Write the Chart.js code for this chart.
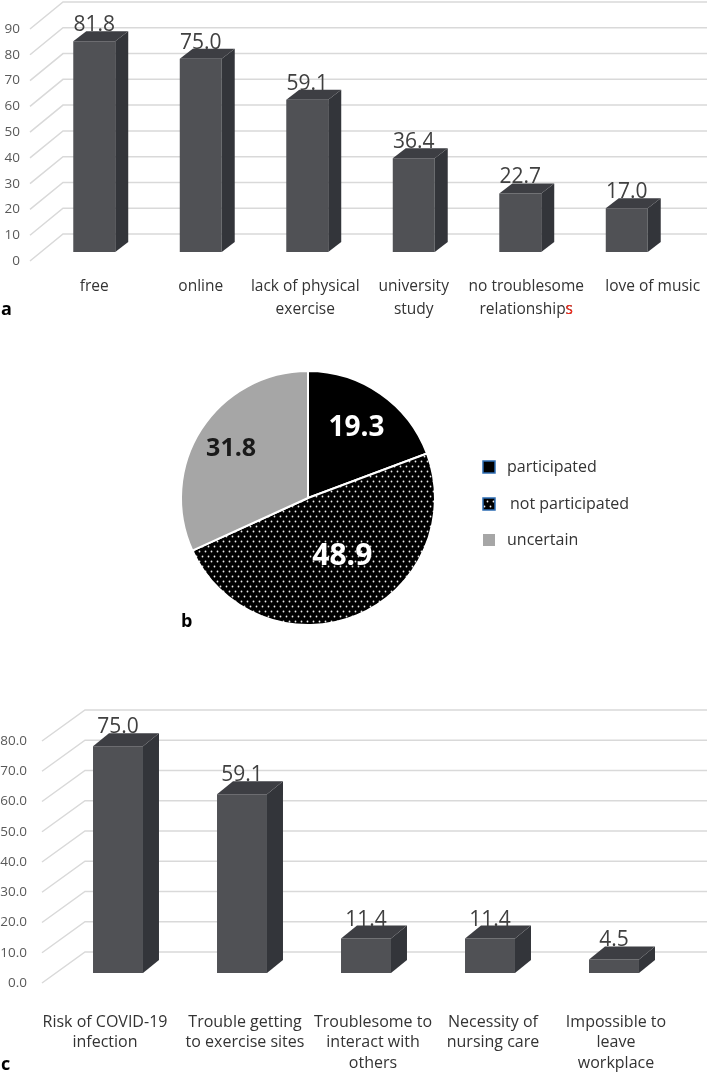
<!DOCTYPE html>
<html>
<head>
<meta charset="utf-8">
<script src="https://cdn.jsdelivr.net/npm/chart.js@4.4.1/dist/chart.umd.min.js"></script>
<style>
  body { margin: 0; background: #fff; width: 708px; height: 1078px; position: relative; overflow: hidden; }
  canvas { position: absolute; left: 0; }
</style>
</head>
<body>
<canvas id="grafico-a" width="708" height="325" style="top:0"></canvas>
<canvas id="grafico-b" width="708" height="300" style="top:330px"></canvas>
<canvas id="grafico-c" width="708" height="398" style="top:680px"></canvas>
<script>
// panel a: reasons for taking part
const aCategories = [['free'], ['online'], ['lack of physical', 'exercise'], ['university', 'study'], ['no troublesome', 'relationships'], ['love of music']];
const aValues = [81.8, 75.0, 59.1, 36.4, 22.7, 17.0];
const aTicks = ['0', '10', '20', '30', '40', '50', '60', '70', '80', '90'];

// panel b: participation
const bLabels = ['participated', 'not participated', 'uncertain'];
const bValues = [19.3, 48.9, 31.8];

// panel c: reasons for not taking part
const cCategories = [['Risk of COVID-19', 'infection'], ['Trouble getting', 'to exercise sites'], ['Troublesome to', 'interact with', 'others'], ['Necessity of', 'nursing care'], ['Impossible to', 'leave', 'workplace']];
const cValues = [75.0, 59.1, 11.4, 11.4, 4.5];
const cTicks = ['0.0', '10.0', '20.0', '30.0', '40.0', '50.0', '60.0', '70.0', '80.0'];

const FONT = "'Open Sans', sans-serif";

// dibuja la caja 3D, la pared del fondo y los textos
const bar3d = {
    id: 'bar3d',
    beforeDatasetsDraw(chart, args, o) {
        const ctx = chart.ctx;
        const y = chart.scales.y;
        const left = chart.chartArea.left;
        ctx.save();
        ctx.strokeStyle = '#d9d9d9';
        ctx.lineWidth = 1.5;
        ctx.fillStyle = '#595959';
        ctx.font = `13.5px ${FONT}`;
        ctx.textAlign = 'right';
        ctx.textBaseline = 'middle';
        y.ticks.forEach((t, i) => {
            const py = y.getPixelForValue(t.value);
            ctx.beginPath();
            ctx.moveTo(left + o.front[0], py + o.front[1]);
            ctx.lineTo(left + o.back[0], py + o.back[1]);
            ctx.lineTo(o.wallRight, py + o.back[1]);
            ctx.stroke();
            ctx.fillText(o.tickLabels[i], o.labelRight, py + o.front[1]);
        });
        ctx.restore();
    },
    afterDatasetsDraw(chart, args, o) {
        const ctx = chart.ctx;
        const [sx, sy] = o.side;
        const values = chart.data.datasets[0].data;
        ctx.save();
        chart.getDatasetMeta(0).data.forEach((bar, i) => {
            const l = bar.x - bar.width / 2, r = bar.x + bar.width / 2;
            const top = bar.y, bottom = bar.base;
            // lado
            ctx.fillStyle = '#33353a';
            ctx.beginPath();
            ctx.moveTo(r, top);
            ctx.lineTo(r + sx, top - sy);
            ctx.lineTo(r + sx, bottom - sy);
            ctx.lineTo(r, bottom);
            ctx.closePath();
            ctx.fill();
            // tapa
            ctx.fillStyle = '#3d3e43';
            ctx.beginPath();
            ctx.moveTo(l, top);
            ctx.lineTo(l + sx, top - sy);
            ctx.lineTo(r + sx, top - sy);
            ctx.lineTo(r, top);
            ctx.closePath();
            ctx.fill();

            ctx.fillStyle = '#404040';
            ctx.font = `21px ${FONT}`;
            ctx.textAlign = 'center';
            ctx.textBaseline = 'alphabetic';
            ctx.fillText(values[i].toFixed(1), bar.x, top - sy);
        });
        ctx.restore();
    },
    afterDraw(chart, args, o) {
        const ctx = chart.ctx;
        const x = chart.scales.x;
        const base = chart.chartArea.bottom;
        ctx.save();
        ctx.font = `${o.catSize}px ${FONT}`;
        ctx.textAlign = 'center';
        ctx.textBaseline = 'middle';
        chart.data.labels.forEach((lines, i) => {
            const px = x.getPixelForValue(i) + o.catShift[i];
            lines.forEach((line, j) => {
                const py = base + o.catTop + j * o.catLine;
                ctx.fillStyle = '#333333';
                ctx.fillText(line, px, py);
                if (o.redTail && o.redTail[0] === i && o.redTail[1] === j) {
                    const w = ctx.measureText(line).width;
                    const last = line.slice(-1);
                    ctx.fillStyle = '#ff2a1a';
                    ctx.textAlign = 'right';
                    ctx.fillText(last, px + w / 2, py);
                    ctx.textAlign = 'center';
                }
            });
        });
        ctx.fillStyle = '#000';
        ctx.font = `bold 18px ${FONT}`;
        ctx.textAlign = 'left';
        ctx.textBaseline = 'alphabetic';
        ctx.fillText(o.tag[0], o.tag[1], o.tag[2]);
        ctx.restore();
    }
};

function barChart(id, labels, values, max, pad, pct, o) {
    return new Chart(document.getElementById(id), {
        type: 'bar',
        data: {
            labels: labels,
            datasets: [{
                data: values,
                backgroundColor: '#505155',
                barPercentage: pct,
                categoryPercentage: 1
            }]
        },
        options: {
            responsive: false,
            animation: false,
            events: [],
            layout: { padding: pad },
            plugins: { legend: { display: false }, tooltip: { enabled: false }, bar3d: o },
            scales: {
                x: { display: false, grid: { display: false } },
                y: { display: false, min: 0, max: max, ticks: { stepSize: 10 } }
            }
        },
        plugins: [bar3d]
    });
}

barChart('grafico-a', aCategories, aValues, 90,
    { left: 41, right: 28, top: 20, bottom: 73 }, 0.394,
    { front: [-11, 9], back: [22, -18], wallRight: 707, labelRight: 20, side: [13, 10],
      tickLabels: aTicks, catSize: 15.5, catTop: 35, catLine: 23, catShift: [0, 0, -2, 0, 6, 26],
      redTail: [4, 1], tag: ['a', 1, 315] });

barChart('grafico-c', cCategories, cValues, 80,
    { left: 56, right: 32, top: 51, bottom: 105 }, 0.403,
    { front: [-14, 10], back: [29, -21], wallRight: 707, labelRight: 27, side: [16, 13],
      tickLabels: cTicks, catSize: 16, catTop: 49, catLine: 20.5, catShift: [-13, 3, 7, 3, 2],
      redTail: null, tag: ['c', 1, 390] });

// patrón de puntos para "not participated"
function dotPattern(ctx) {
    const c = document.createElement('canvas');
    c.width = 6; c.height = 10;
    const g = c.getContext('2d');
    g.fillStyle = '#000';
    g.fillRect(0, 0, 6, 10);
    g.fillStyle = '#f0f0f0';
    g.beginPath(); g.arc(1.5, 1.5, 0.9, 0, Math.PI * 2); g.fill();
    g.beginPath(); g.arc(4.5, 6.5, 0.9, 0, Math.PI * 2); g.fill();
    return ctx.createPattern(c, 'repeat');
}

const pieText = {
    id: 'pieText',
    afterDatasetsDraw(chart, args, o) {
        const ctx = chart.ctx;
        const values = chart.data.datasets[0].data;
        ctx.save();
        ctx.textAlign = 'center';
        ctx.textBaseline = 'middle';
        chart.getDatasetMeta(0).data.forEach((arc, i) => {
            const mid = (arc.startAngle + arc.endAngle) / 2;
            const r = arc.outerRadius * o.dist[i];
            ctx.font = `bold ${o.size[i]}px ${FONT}`;
            ctx.fillStyle = o.color[i];
            ctx.fillText(values[i].toFixed(1), arc.x + Math.cos(mid) * r + o.shift[i], arc.y + Math.sin(mid) * r);
        });
        // leyenda
        const bg = chart.data.datasets[0].backgroundColor;
        ctx.textAlign = 'left';
        ctx.font = `16px ${FONT}`;
        chart.data.labels.forEach((lab, i) => {
            const cy = o.legendY[i];
            ctx.fillStyle = bg[i];
            ctx.fillRect(483, cy - 6, 12, 12);
            if (i < 2) {
                ctx.strokeStyle = '#2e6db4';
                ctx.lineWidth = 1.5;
                ctx.strokeRect(483, cy - 6, 12, 12);
            }
            ctx.fillStyle = '#333';
            ctx.fillText(lab, i === 1 ? 510 : 507, cy);
        });
        ctx.fillStyle = '#000';
        ctx.font = `bold 18px ${FONT}`;
        ctx.textBaseline = 'alphabetic';
        ctx.fillText('b', 181, 297);
        ctx.restore();
    }
};

const ctxB = document.getElementById('grafico-b').getContext('2d');
new Chart(ctxB, {
    type: 'pie',
    data: {
        labels: bLabels,
        datasets: [{
            data: bValues,
            backgroundColor: ['#000000', dotPattern(ctxB), '#a6a6a6'],
            borderColor: '#ffffff',
            borderWidth: 2,
            hoverOffset: 0
        }]
    },
    options: {
        responsive: false,
        animation: false,
        events: [],
        layout: { padding: { left: 180, right: 272, top: 40, bottom: 4 } },
        plugins: {
            legend: { display: false },
            tooltip: { enabled: false },
            pieText: {
                dist: [0.67, 0.5, 0.72],
                size: [28, 30, 25],
                shift: [0, 10, 0],
                color: ['#ffffff', '#ffffff', '#1a1a1a'],
                legendY: [137, 174, 210]
            }
        }
    },
    plugins: [pieText]
});
</script>
</body>
</html>
